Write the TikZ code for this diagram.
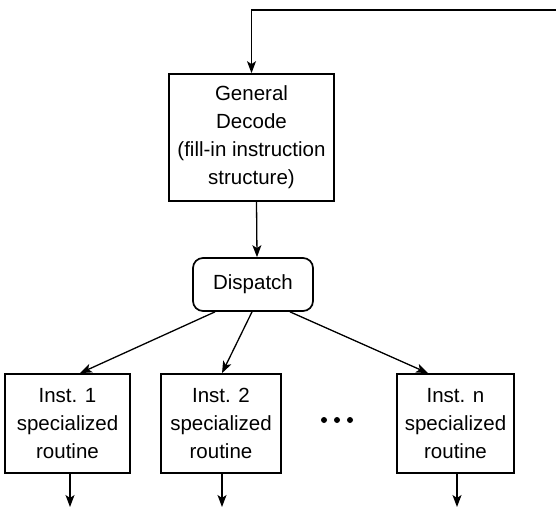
\documentclass[tikz,border=0pt]{standalone}
\usepackage{fontspec}
\setmainfont{Liberation Sans}
\usetikzlibrary{arrows.meta}
\begin{document}
\begin{tikzpicture}[x=1pt,y=-1pt,
  box/.style={draw,line width=1.7pt,align=center,inner sep=0pt,
    font=\fontsize{20.5}{28}\selectfont},
  arr/.style={line width=1.3pt,-{Stealth[length=12pt,width=9pt,inset=3pt]}},
  every node/.style={anchor=center}]
\useasboundingbox (0,0) rectangle (556,508);
\node[box,minimum width=165pt,minimum height=127pt] (dec) at (251.5,137.5)
  {General\\Decode\\(fill-in instruction\\structure)};
\node[box,rounded corners=10pt,minimum width=120pt,minimum height=53pt] (disp) at (253,284.5) {Dispatch};
\node[box,minimum width=125pt,minimum height=99pt] (i1) at (67.5,423.5) {Inst. 1\\specialized\\routine};
\node[box,minimum width=120pt,minimum height=99pt] (i2) at (221,423.5) {Inst. 2\\specialized\\routine};
\node[box,minimum width=117pt,minimum height=99pt] (in) at (455.5,423.5) {Inst. n\\specialized\\routine};
\coordinate (topR) at (556,10);
\coordinate (o1) at (70,507);
\coordinate (o2) at (222,507);
\coordinate (on) at (457,507);
\draw[arr] (topR) -| (dec.north);
\draw[arr] ([xshift=5pt]dec.south) -- ([xshift=4pt]disp.north);
\draw[arr] ([xshift=-38pt]disp.south) -- ([xshift=12.5pt]i1.north);
\draw[arr] ([xshift=-1pt]disp.south) -- ([xshift=1pt]i2.north);
\draw[arr] ([xshift=37pt]disp.south) -- ([xshift=-27.5pt]in.north);
\draw[arr] ([xshift=2.5pt]i1.south) -- (o1);
\draw[arr] ([xshift=1pt]i2.south) -- (o2);
\draw[arr] ([xshift=1.5pt]in.south) -- (on);
\fill (324,420) circle (3pt) (337,420) circle (3pt) (350,420) circle (3pt);
\end{tikzpicture}
\end{document}
